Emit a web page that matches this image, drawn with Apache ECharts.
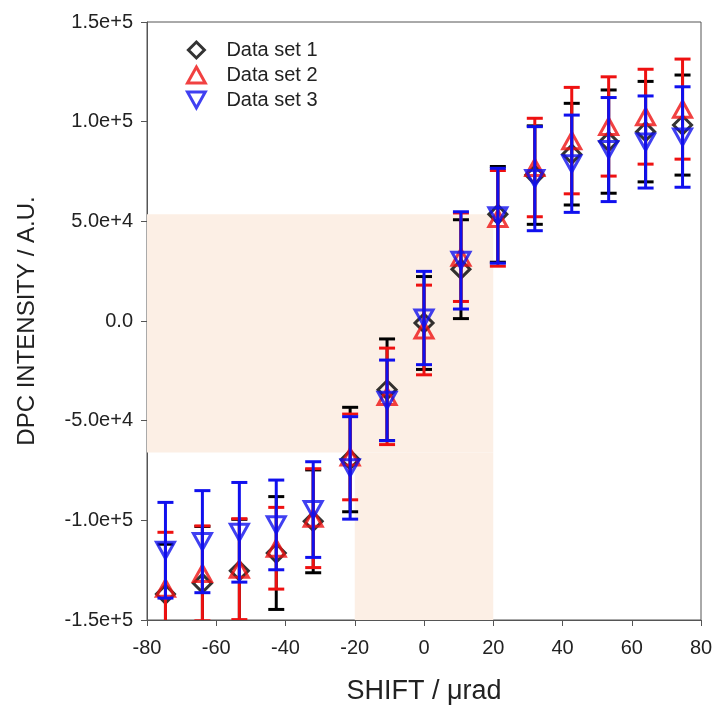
<!DOCTYPE html>
<html>
<head>
<meta charset="utf-8">
<script src="https://cdn.jsdelivr.net/npm/echarts@6/dist/echarts.min.js"></script>
<style>
html,body{margin:0;padding:0;background:#fff;}
#chart{width:713px;height:708px;}
</style>
</head>
<body>
<div id="chart"></div>
<script>
// ---- data ----
var shifts = [-74.67, -64, -53.33, -42.67, -32, -21.33, -10.67, 0, 10.67, 21.33, 32, 42.67, 53.33, 64, 74.67];
var seriesNames = ['Data set 1', 'Data set 2', 'Data set 3'];
var set1Values = [-137000, -131600, -125300, -116400, -100500, -69500, -34500, -1000, 26000, 53500, 73200, 83700, 90000, 95000, 98300];
var set1Errors = [25000, 28500, 25800, 28300, 25800, 26200, 25500, 23300, 24800, 24000, 24700, 25500, 25900, 25200, 25100];
var set2Values = [-134000, -126600, -124500, -114000, -98900, -68200, -37800, -4500, 32000, 51500, 77000, 90500, 97600, 102500, 106300];
var set2Errors = [28000, 23800, 25300, 20500, 24800, 21500, 24200, 22500, 22200, 24000, 24700, 26700, 24900, 23800, 25100];
var set3Values = [-115000, -110700, -106000, -102300, -94600, -73700, -39800, 1500, 30400, 52800, 71400, 78900, 86000, 89800, 92300];
var set3Errors = [24000, 25600, 25000, 22500, 24000, 25700, 20200, 23400, 24400, 23800, 26100, 24400, 26100, 23100, 25200];
var shadeRegions = [[-80, -66000, 20, 53500], [-20, -150000, 20, -66000]];
var xTicks = [-80, -60, -40, -20, 0, 20, 40, 60, 80];
var yTickLabels = {'-150000': '-1.5e+5', '-100000': '-1.0e+5', '-50000': '-5.0e+4', '0': '0.0', '50000': '5.0e+4', '100000': '1.0e+5', '150000': '1.5e+5'};

var colors = ['#000000', '#ee1111', '#1010ee'];
var symbols = ['path://M1,0 L2,1 L1,2 L0,1 Z', 'path://M1,0 L2,1.8 L0,1.8 Z', 'path://M0,0 L2,0 L1,1.8 Z'];
var valueSets = [set1Values, set2Values, set3Values];
var errorSets = [set1Errors, set2Errors, set3Errors];

var FONT = '"Liberation Sans", Arial, sans-serif';

function errData(vals, errs) {
  return shifts.map(function (x, i) { return [x, vals[i] - errs[i], vals[i] + errs[i]]; });
}
function ptData(vals) {
  return shifts.map(function (x, i) { return [x, vals[i]]; });
}

function makeErr(idx) {
  var col = colors[idx];
  return {
    type: 'custom',
    name: seriesNames[idx] + ' err',
    clip: true,
    z: 2 + idx * 2,
    silent: true,
    encode: {x: 0, y: [1, 2]},
    data: errData(valueSets[idx], errorSets[idx]),
    renderItem: function (params, api) {
      var x = api.value(0);
      var lo = api.coord([x, api.value(1)]);
      var hi = api.coord([x, api.value(2)]);
      var hw = 8;
      var st = {stroke: col, lineWidth: 3};
      return {
        type: 'group',
        children: [
          {type: 'line', shape: {x1: lo[0], y1: lo[1], x2: hi[0], y2: hi[1]}, style: st},
          {type: 'line', shape: {x1: lo[0] - hw, y1: lo[1], x2: lo[0] + hw, y2: lo[1]}, style: st},
          {type: 'line', shape: {x1: hi[0] - hw, y1: hi[1], x2: hi[0] + hw, y2: hi[1]}, style: st}
        ]
      };
    }
  };
}
function makePts(idx) {
  return {
    type: 'scatter',
    name: seriesNames[idx],
    z: 3 + idx * 2,
    symbol: symbols[idx],
    symbolSize: 18,
    symbolKeepAspect: true,
    itemStyle: {color: 'rgba(0,0,0,0)', borderColor: colors[idx], borderWidth: 3},
    data: ptData(valueSets[idx])
  };
}

var series = [{
  type: 'scatter',
  name: 'shade',
  data: [],
  z: 0,
  silent: true,
  markArea: {
    silent: true,
    itemStyle: {color: '#fcefe5'},
    data: shadeRegions.map(function (r) { return [{coord: [r[0], r[1]]}, {coord: [r[2], r[3]]}]; })
  }
}];
for (var i = 0; i < 3; i++) { series.push(makeErr(i)); series.push(makePts(i)); }

var chart = echarts.init(document.getElementById('chart'), null, {renderer: 'canvas'});
chart.setOption({
  animation: false,
  backgroundColor: '#fff',
  textStyle: {fontFamily: FONT},
  grid: {left: 147, right: 12, top: 22, bottom: 88, containLabel: false, outerBoundsMode: 'none', show: true, borderColor: '#555', borderWidth: 1, backgroundColor: 'transparent'},
  legend: {
    data: seriesNames.map(function (n, i) {
      return {name: n, icon: symbols[i], itemStyle: {color: 'rgba(0,0,0,0)', borderColor: colors[i], borderWidth: 3}};
    }),
    orient: 'vertical',
    left: 181,
    top: 35,
    itemWidth: 18,
    itemHeight: 16,
    itemGap: 5,
    textStyle: {fontSize: 20, color: '#222', fontFamily: FONT, padding: [0, 0, 0, 16]}
  },
  xAxis: {
    type: 'value',
    min: -80, max: 80, interval: 20,
    name: 'SHIFT / μrad',
    nameLocation: 'middle',
    nameGap: 58,
    nameTextStyle: {fontSize: 27, color: '#222', fontFamily: FONT},
    axisLine: {show: true, onZero: false, lineStyle: {color: '#555', width: 1}},
    axisTick: {show: true, inside: false, length: 6, lineStyle: {color: '#555'}},
    axisLabel: {fontSize: 20, color: '#222', margin: 18, formatter: function (v) { return xTicks.indexOf(v) >= 0 ? String(v) : ''; }},
    splitLine: {show: false}
  },
  yAxis: {
    type: 'value',
    min: -150000, max: 150000, interval: 50000,
    name: 'DPC INTENSITY / A.U.',
    nameLocation: 'middle',
    nameGap: 108,
    nameTextStyle: {fontSize: 24, color: '#222', fontFamily: FONT},
    axisLine: {show: true, onZero: false, lineStyle: {color: '#555', width: 1}},
    axisTick: {show: true, inside: false, length: 6, lineStyle: {color: '#555'}},
    axisLabel: {fontSize: 20, color: '#222', margin: 14, formatter: function (v) { return yTickLabels[String(v)] || ''; }},
    splitLine: {show: false}
  },
  series: series
});
</script>
</body>
</html>
